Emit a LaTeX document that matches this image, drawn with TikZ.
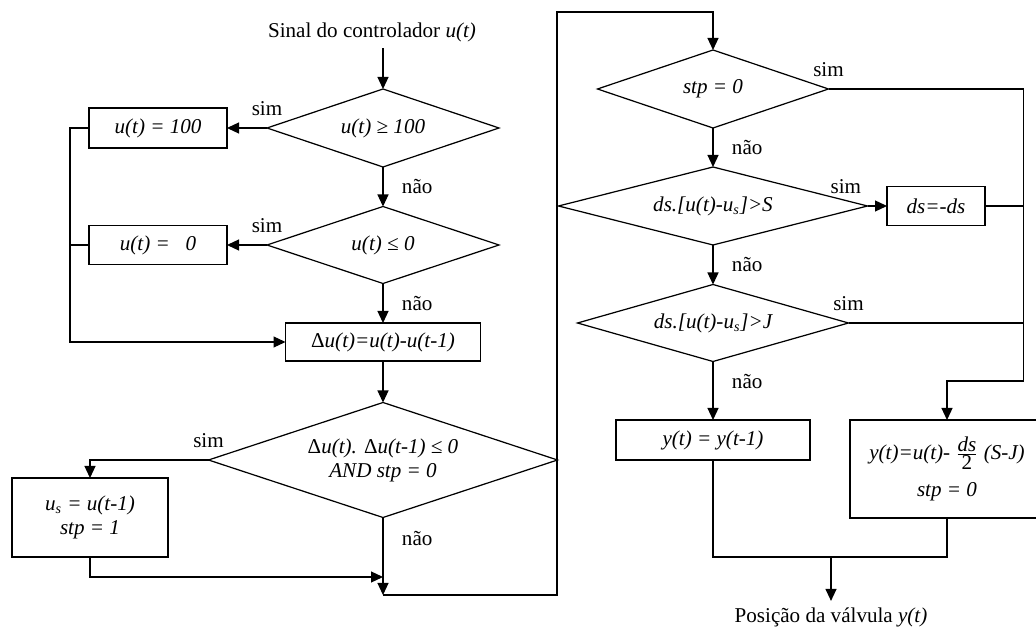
\documentclass[tikz,border=0pt]{standalone}
\usepackage{fontspec}
\setmainfont{Liberation Serif}
\usetikzlibrary{arrows.meta, shapes.geometric, positioning}

\begin{document}
\begin{tikzpicture}[>={Triangle[length=2.4mm, width=2.2mm]}, line width=0.7pt, on grid, font=\fontsize{12}{14}\selectfont, decision/.style={diamond, draw, aspect=3, inner sep=0pt, outer sep=0pt, align=center, font=\fontsize{12}{13.7}\selectfont\itshape}, block/.style={rectangle, draw, inner sep=2pt, outer sep=0pt, align=center, font=\fontsize{12}{14}\selectfont\itshape}]

            \useasboundingbox (0,0) rectangle (20.72,-12.54);

            \node[decision, minimum width=4.64cm, minimum height=1.56cm] (D1) at (7.66,-2.56) {u(t) ≥ 100};
            \node[above=1.92cm of D1, xshift=-0.22cm] (T) {Sinal do controlador \textit{u(t)}};
            \node[block, left=4.5cm of D1, minimum width=2.76cm, minimum height=0.8cm] (B1) {u(t) = 100};
            \node[decision, below=2.34cm of D1, minimum width=4.64cm, minimum height=1.54cm] (D2) {u(t) ≤ 0};
            \node[block, left=4.5cm of D2, minimum width=2.76cm, minimum height=0.78cm] (B2) {u(t) =\ \ \ 0};
            \node[block, below=1.94cm of D2, minimum width=3.9cm, minimum height=0.76cm] (B3) {{\upshape Δ}u(t)=u(t)-u(t-1)};
            \node[decision, below=2.36cm of B3, minimum width=6.98cm, minimum height=2.3cm] (D3) {{\upshape Δ}u(t). {\upshape Δ}u(t-1) ≤ 0\\AND stp = 0};
            \node[block, below left=1.15cm and 5.86cm of D3, minimum width=3.12cm, minimum height=1.58cm] (B4) {u\textsubscript{s} = u(t-1)\\stp = 1};
            \coordinate[below=2.7cm of D3] (J1);

            \node[decision, above right=0.78cm and 6.6cm of D1, minimum width=4.62cm, minimum height=1.56cm] (D4) {stp = 0};
            \node[decision, below=2.34cm of D4, minimum width=6.18cm, minimum height=1.56cm] (D5) {ds.[u(t)-u\textsubscript{s}]>S};
            \node[block, right=4.46cm of D5, minimum width=1.96cm, minimum height=0.78cm] (B5) {ds=-ds};
            \node[decision, below=2.34cm of D5, minimum width=5.42cm, minimum height=1.54cm] (D6) {ds.[u(t)-u\textsubscript{s}]>J};
            \node[block, below=2.34cm of D6, minimum width=3.88cm, minimum height=0.8cm] (B6) {y(t) = y(t-1)};
            \node[block, below right=0.58cm and 4.68cm of B6, minimum width=3.88cm, minimum height=1.96cm] (B7) {y(t)=u(t)- $\frac{\mbox{ds}}{\mbox{\upshape 2}}$ (S-J)\\[7pt]stp = 0};
            \node[below right=3.54cm and 2.36cm of B6] (P) {Posição da válvula \textit{y(t)}};
            \coordinate[above=1.2cm of P] (J2);
            \coordinate (R) at ([xshift=3.9cm]D4.east);

            \path[->]
            (D1) edge node[above=1.2mm, pos=0] {sim} (B1)
            (D1) edge node[right=2.5mm] {não} (D2)
            (D2) edge node[above=1.2mm, pos=0] {sim} (B2)
            (D2) edge node[right=2.5mm] {não} (B3)
            (B3) edge (D3)
            (D4) edge node[right=2.5mm] {não} (D5)
            (D5) edge node[above left=1.2mm and 0mm, pos=0] {sim} (B5)
            (D5) edge node[right=2.5mm] {não} (D6)
            (D6) edge node[right=2.5mm, pos=0.35] {não} (B6)
            ;

            \draw[->] (D1 |- T.south) -- (D1);
            \draw[->] (B1.west) -- ++(-0.38,0) |- (B3.west);
            \draw (B2.west) -- ++(-0.38,0);
            \draw[->] (D3.west) -| node[above=1.2mm, pos=0] {sim} (B4.north);
            \draw[->] (B4.south) |- ([yshift=0.36cm]J1);
            \draw[->] (D3) -- node[pos=0.27, right=2.5mm] {não} (J1);
            \draw[->] (J1) -- ++(3.48,0) |- ([yshift=0.76cm]D4.north) -- (D4);
            \draw[->] (D4) -- node[above=1.2mm, pos=0] {sim} (R) |- ([yshift=0.78cm]B7.north) -- (B7);
            \draw (B5) -- (B5 -| R);
            \draw (D6) -- node[above=1.2mm, pos=0] {sim} (D6 -| R);
            \draw (B6) |- (J2) -| (B7);
            \draw[->] (J2) -- (P);

        \end{tikzpicture}
\end{document}
